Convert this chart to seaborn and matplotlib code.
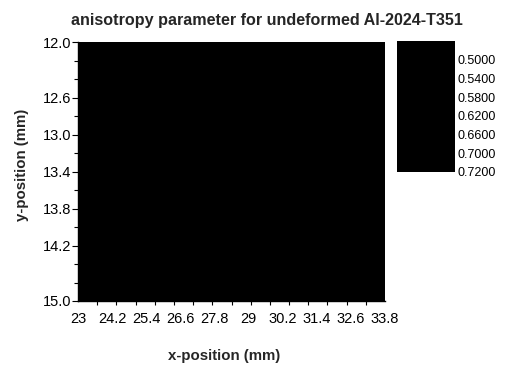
import numpy as np
import pandas as pd
import matplotlib
matplotlib.use("Agg")
import matplotlib.pyplot as plt
from matplotlib.colors import ListedColormap
import seaborn as sns

# ---- data ----
title = "anisotropy parameter for undeformed Al-2024-T351"
x_tick_labels = ["23", "24.2", "25.4", "26.6", "27.8", "29", "30.2", "31.4", "32.6", "33.8"]
y_tick_labels = ["12.0", "12.6", "13.0", "13.4", "13.8", "14.2", "15.0"]
y_tick_units = [0, 3, 5, 7, 9, 11, 14]          # position of each y label along the 14-step axis
colorbar_labels = ["0.5000", "0.5400", "0.5800", "0.6200", "0.6600", "0.7000", "0.7200"]
colorbar_levels = [0.50, 0.54, 0.58, 0.62, 0.66, 0.70, 0.72]
# The scanned map is uniformly black: no individual level can be read,
# so every cell carries the same (unresolvable) anisotropy value.
anisotropy = [
    [0.61, 0.61, 0.61, 0.61, 0.61, 0.61, 0.61, 0.61],
    [0.61, 0.61, 0.61, 0.61, 0.61, 0.61, 0.61, 0.61],
    [0.61, 0.61, 0.61, 0.61, 0.61, 0.61, 0.61, 0.61],
    [0.61, 0.61, 0.61, 0.61, 0.61, 0.61, 0.61, 0.61],
    [0.61, 0.61, 0.61, 0.61, 0.61, 0.61, 0.61, 0.61],
    [0.61, 0.61, 0.61, 0.61, 0.61, 0.61, 0.61, 0.61],
    [0.61, 0.61, 0.61, 0.61, 0.61, 0.61, 0.61, 0.61],
]

sns.set_theme(style="ticks")
plt.rcParams["font.family"] = ["Liberation Sans", "DejaVu Sans"]

W, H = 505, 365
fig = plt.figure(figsize=(W / 100, H / 100), dpi=100)
ax = fig.add_axes([78 / W, 1 - 301 / H, 307 / W, 259 / H])
cax = fig.add_axes([397 / W, 1 - 172 / H, 58 / W, 131 / H])

black = ListedColormap(["black"])
grid = pd.DataFrame(anisotropy)
nrows, ncols = grid.shape
sns.heatmap(grid, cmap=black, cbar=False, ax=ax, xticklabels=False, yticklabels=False)

# x axis
ax.set_xticks(np.linspace(0, ncols, len(x_tick_labels)))
ax.set_xticklabels(x_tick_labels, rotation=0)
ax.set_xticks(np.linspace(0, ncols, 17), minor=True)
ax.tick_params(axis="x", which="major", length=0, pad=8, labelsize=10.5, colors="black")
ax.tick_params(axis="x", which="minor", length=3, width=0.8, direction="out", bottom=True, color="black")

# y axis
ax.set_yticks([u * nrows / 14 for u in y_tick_units])
ax.set_yticklabels(y_tick_labels, rotation=0)
ax.set_yticks(np.arange(0, 15) * nrows / 14, minor=True)
ax.tick_params(axis="y", which="major", length=4, width=0.8, pad=1, labelsize=10.5, colors="black")
ax.tick_params(axis="y", which="minor", length=3, width=0.8, left=True, color="black")

for s in ["left", "bottom"]:
    ax.spines[s].set_visible(True)
    ax.spines[s].set_color("black")
    ax.spines[s].set_linewidth(1.0)

ax.set_xlabel("x-position (mm)", fontsize=10.8, fontweight="bold")
ax.xaxis.set_label_coords(0.476, -0.185)
ax.set_ylabel("y-position (mm)", fontsize=10.8, fontweight="bold")
ax.yaxis.set_label_coords(-0.16, 0.525)

# colour bar drawn as its own heatmap column
sns.heatmap(pd.DataFrame({"level": colorbar_levels}), cmap=black, cbar=False, ax=cax,
            xticklabels=False, yticklabels=False)
cax.yaxis.tick_right()
cax.set_yticks(np.arange(1, len(colorbar_labels) + 1))
cax.set_yticklabels(colorbar_labels, rotation=0)
cax.tick_params(axis="y", length=0, pad=2, labelsize=9, colors="black")

fig.text(267 / W, 1 - 20 / H, title, ha="center", va="center", fontsize=11.6, fontweight="bold")

fig.savefig("out.png", dpi=100)
